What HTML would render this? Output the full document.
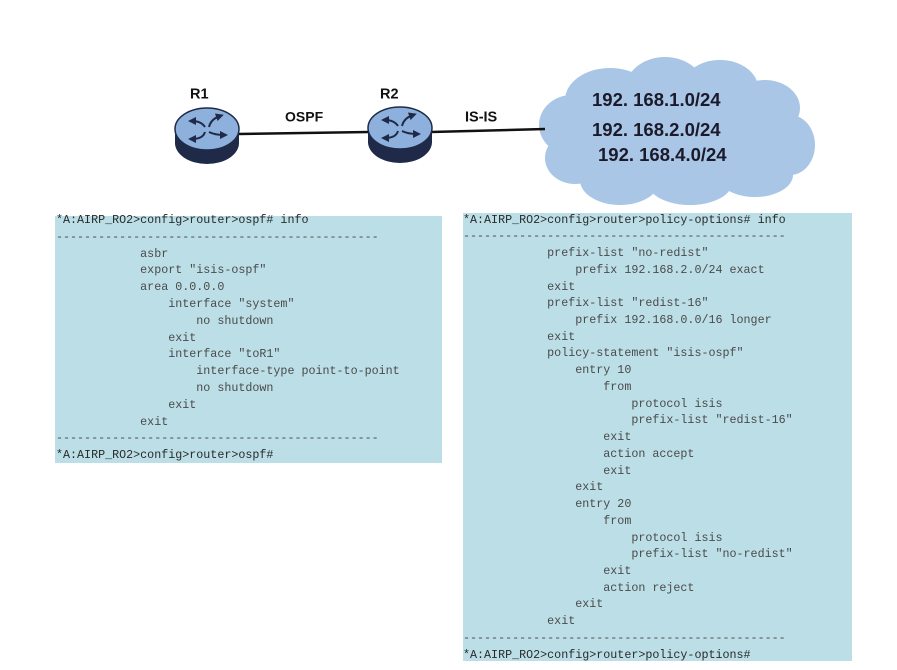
<!DOCTYPE html>
<html><head><meta charset="utf-8"><style>
html,body{margin:0;padding:0;background:#fff;}
body{width:897px;height:670px;position:relative;overflow:hidden;}
.box{position:absolute;background:#bcdfe7;}
pre{position:absolute;margin:0;font-family:"Liberation Mono",monospace;font-size:11.7px;line-height:16.8px;color:#4a4a4a;}
pre b{font-weight:normal;color:#2a2a2a;}
svg{position:absolute;left:0;top:0;}
</style></head><body>
<svg width="897" height="670" viewBox="0 0 897 670">
<defs>
<marker id="ah" markerWidth="4" markerHeight="4" refX="2" refY="2" orient="auto" markerUnits="strokeWidth">
<path d="M0,0 L4,2 L0,4 z" fill="#1e2a48"/>
</marker>
</defs>
<!-- cloud -->
<g fill="#a9c6e6">
<ellipse cx="677" cy="132" rx="120" ry="55"/>
<ellipse cx="610" cy="100" rx="45" ry="32"/>
<ellipse cx="665" cy="90" rx="40" ry="33"/>
<ellipse cx="720" cy="88" rx="38" ry="28"/>
<ellipse cx="765" cy="108" rx="35" ry="28"/>
<ellipse cx="790" cy="145" rx="25" ry="30"/>
<ellipse cx="572" cy="125" rx="33" ry="30"/>
<ellipse cx="575" cy="158" rx="30" ry="26"/>
<ellipse cx="620" cy="180" rx="40" ry="25"/>
<ellipse cx="690" cy="183" rx="42" ry="22"/>
<ellipse cx="755" cy="175" rx="38" ry="22"/>
</g>
<!-- links -->
<line x1="238" y1="134" x2="369" y2="132" stroke="#111" stroke-width="2.5"/>
<line x1="431" y1="132" x2="545" y2="129" stroke="#111" stroke-width="2.5"/>
<!-- R1 -->
<g transform="translate(207,129)">
<path d="M-32,0 L-32,14 A32,21 0 0 0 32,14 L32,0 z" fill="#1e2a48"/>
<ellipse cx="0" cy="0" rx="32" ry="21" fill="#8eb0dc" stroke="#1e2a48" stroke-width="1.5"/>
<g stroke="#1e2a48" stroke-width="2" fill="none" marker-end="url(#ah)">
<path d="M-2,-2 Q-6,-8 -15,-8"/>
<path d="M2,-2 Q4,-10 13,-13"/>
<path d="M-2,3 Q-4,10 -15,10"/>
<path d="M2,3 Q8,6 17,6"/>
</g>
</g>
<!-- R2 -->
<g transform="translate(400,128)">
<path d="M-32,0 L-32,14 A32,21 0 0 0 32,14 L32,0 z" fill="#1e2a48"/>
<ellipse cx="0" cy="0" rx="32" ry="21" fill="#8eb0dc" stroke="#1e2a48" stroke-width="1.5"/>
<g stroke="#1e2a48" stroke-width="2" fill="none" marker-end="url(#ah)">
<path d="M-2,-2 Q-6,-8 -15,-8"/>
<path d="M2,-2 Q4,-10 13,-13"/>
<path d="M-2,3 Q-4,10 -15,10"/>
<path d="M2,3 Q8,6 17,6"/>
</g>
</g>
<g font-family="Liberation Sans, sans-serif" font-weight="bold" fill="#111">
<text x="190" y="98.5" font-size="14.5">R1</text>
<text x="380" y="98.5" font-size="14.5">R2</text>
<text x="285" y="121.5" font-size="14">OSPF</text>
<text x="465" y="121.5" font-size="14.5">IS-IS</text>
</g>
<g font-family="Liberation Sans, sans-serif" font-weight="bold" fill="#1a1a2a" font-size="18.5">
<text x="592" y="106">192. 168.1.0/24</text>
<text x="592" y="136">192. 168.2.0/24</text>
<text x="598" y="161">192. 168.4.0/24</text>
</g>
</svg>

<div class="box" style="left:55px;top:216px;width:387px;height:247px;"></div>
<div class="box" style="left:463px;top:213px;width:389px;height:448px;"></div>

<pre style="left:56px;top:212px;"><b>*A:AIRP_RO2&gt;config&gt;router&gt;ospf# info</b>
----------------------------------------------
            asbr
            export "isis-ospf"
            area 0.0.0.0
                interface "system"
                    no shutdown
                exit
                interface "toR1"
                    interface-type point-to-point
                    no shutdown
                exit
            exit
----------------------------------------------
<b>*A:AIRP_RO2&gt;config&gt;router&gt;ospf#</b></pre>

<pre style="left:463px;top:211.6px;line-height:16.73px;"><b>*A:AIRP_RO2&gt;config&gt;router&gt;policy-options# info</b>
----------------------------------------------
            prefix-list "no-redist"
                prefix 192.168.2.0/24 exact
            exit
            prefix-list "redist-16"
                prefix 192.168.0.0/16 longer
            exit
            policy-statement "isis-ospf"
                entry 10
                    from
                        protocol isis
                        prefix-list "redist-16"
                    exit
                    action accept
                    exit
                exit
                entry 20
                    from
                        protocol isis
                        prefix-list "no-redist"
                    exit
                    action reject
                exit
            exit
----------------------------------------------
<b>*A:AIRP_RO2&gt;config&gt;router&gt;policy-options#</b></pre>
</body></html>
